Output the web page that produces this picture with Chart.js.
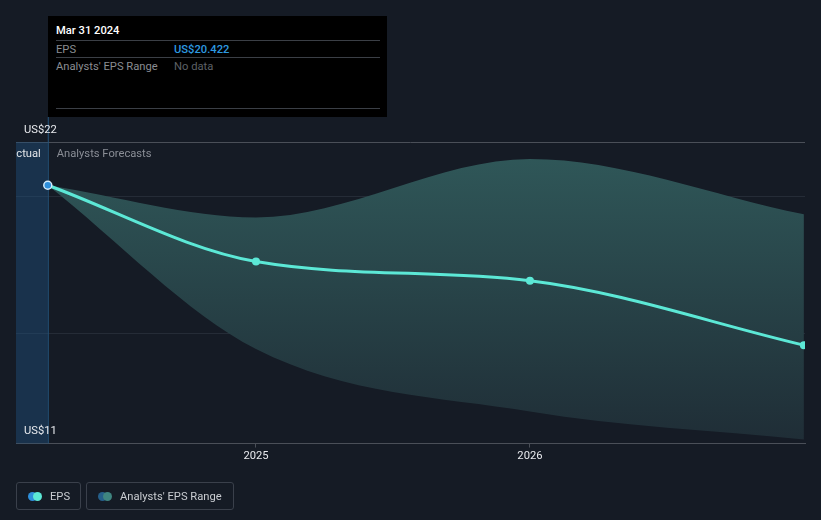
<!DOCTYPE html>
<html>
<head>
<meta charset="utf-8">
<script src="https://cdn.jsdelivr.net/npm/chart.js@4"></script>
<style>
    body { margin: 0; background: #151b25; font-family: Roboto, "Noto Sans", sans-serif; }
    .wrap { position: relative; width: 821px; height: 520px; }
    #eps-chart { position: absolute; left: 0; top: 0; }
    .tip { position: absolute; left: 48px; top: 16px; width: 339px; height: 101px; background: #000; font-size: 11.2px; }
    .tip-title { position: absolute; left: 8px; top: 8px; color: #fff; font-weight: 500; }
    .tip-line { position: absolute; left: 8px; width: 324px; height: 1px; background: #3b3f46; }
    .tip-row { position: absolute; left: 8px; width: 320px; color: #8a8d92; white-space: nowrap; }
    .tip-val { position: absolute; left: 118px; }
    .legend { position: absolute; left: 16px; top: 482px; }
    .legend-item { position: absolute; top: 0; box-sizing: border-box; height: 28px; border: 1px solid #3a404b; border-radius: 3px; display: flex; align-items: center; padding-left: 11px; color: #c9ccd1; font-size: 11.2px; white-space: nowrap; }
    .dots { position: relative; width: 14px; height: 9px; margin-right: 8px; }
    .dots span { position: absolute; top: 0; width: 9px; height: 9px; border-radius: 50%; }
</style>
</head>
<body>
<div class="wrap">
    <canvas id="eps-chart" width="821" height="520"></canvas>
    <div class="tip">
        <div class="tip-title">Mar 31 2024</div>
        <div class="tip-line" style="top:24px"></div>
        <div class="tip-row" style="top:27px">EPS<span class="tip-val" style="color:#2d9ae0;font-weight:500">US$20.422</span></div>
        <div class="tip-line" style="top:41px"></div>
        <div class="tip-row" style="top:44px">Analysts' EPS Range<span class="tip-val" style="color:#5d6066">No data</span></div>
        <div class="tip-line" style="top:92px"></div>
    </div>
    <div class="legend">
        <div class="legend-item" style="left:0;width:65px"><div class="dots"><span style="left:0;background:#2e8fdb"></span><span style="left:5px;background:#5ce8d6"></span></div>EPS</div>
        <div class="legend-item" style="left:70px;width:148px"><div class="dots"><span style="left:0;background:#255f8a"></span><span style="left:5px;background:#3f8580"></span></div>Analysts' EPS Range</div>
    </div>
</div>
<script>
// --- data ---
const xYears = [2024.24, 2025, 2026, 2027];
const epsValues = [20.422, 17.64, 16.94, 14.59];
const rangeHigh = [20.422, 19.25, 21.38, 19.36];
const rangeLow = [20.422, 14.45, 12.17, 11.15];
const yearTicks = [2025, 2026];
const gridValues = [11, 15, 20, 22];
const yLabels = ['US$22', 'US$11'];
const actualEnd = xYears[0];
const FONT = '11.2px Roboto';

const toPoints = vals => vals.map((v, i) => ({ x: xYears[i], y: v }));

// shaded "Actual" area + section labels + y labels
const sectionPlugin = {
    id: 'sections',
    beforeDatasetsDraw(chart) {
        const { ctx, chartArea, scales } = chart;
        const xa = scales.x.getPixelForValue(actualEnd);
        ctx.save();
        ctx.fillStyle = 'rgba(32, 80, 125, 0.45)';
        ctx.fillRect(chartArea.left, chartArea.top, xa - chartArea.left, chartArea.bottom - chartArea.top);
        ctx.strokeStyle = '#24547c';
        ctx.lineWidth = 1;
        ctx.beginPath();
        ctx.moveTo(xa + 0.5, 117);
        ctx.lineTo(xa + 0.5, chartArea.bottom);
        ctx.stroke();
        ctx.font = FONT;
        ctx.textBaseline = 'middle';
        ctx.beginPath();
        ctx.rect(chartArea.left, chartArea.top, chartArea.right - chartArea.left, chartArea.bottom - chartArea.top);
        ctx.clip();
        ctx.fillStyle = '#e2e4e8';
        ctx.textAlign = 'right';
        ctx.fillText('Actual', xa - 7, chartArea.top + 12);
        ctx.fillStyle = '#8a8e96';
        ctx.textAlign = 'left';
        ctx.fillText('Analysts Forecasts', xa + 9, chartArea.top + 12);
        ctx.restore();
    },
    afterDraw(chart) {
        const { ctx, chartArea, scales } = chart;
        ctx.save();
        ctx.font = FONT;
        ctx.fillStyle = '#e8eaee';
        ctx.textBaseline = 'middle';
        ctx.fillText(yLabels[0], chartArea.left + 8, scales.y.getPixelForValue(22) - 12);
        ctx.fillText(yLabels[1], chartArea.left + 8, scales.y.getPixelForValue(11) - 12);
        ctx.restore();
    }
};

const ctx = document.getElementById('eps-chart').getContext('2d');
new Chart(ctx, {
    type: 'line',
    data: {
        datasets: [
            {
                label: 'EPS',
                data: toPoints(epsValues),
                borderColor: '#5ce8d6',
                borderWidth: 3,
                cubicInterpolationMode: 'monotone',
                pointRadius: 4,
                pointBackgroundColor: epsValues.map((_, i) => i === 0 ? '#2e8fdb' : '#5ce8d6'),
                pointBorderColor: epsValues.map((_, i) => i === 0 ? '#d4ecfb' : '#5ce8d6'),
                pointBorderWidth: epsValues.map((_, i) => i === 0 ? 1.5 : 0),
                fill: false
            },
            {
                label: 'Analysts\' EPS Range',
                data: toPoints(rangeHigh),
                borderWidth: 0,
                pointRadius: 0,
                cubicInterpolationMode: 'monotone',
                fill: '+1',
                backgroundColor: (c) => {
                    const area = c.chart.chartArea;
                    if (!area) return '#2a4a4d';
                    const g = c.chart.ctx.createLinearGradient(0, area.top, 0, area.bottom);
                    g.addColorStop(0, '#30595a');
                    g.addColorStop(1, '#1f2d36');
                    return g;
                }
            },
            {
                label: 'low',
                data: toPoints(rangeLow),
                borderWidth: 0,
                pointRadius: 0,
                cubicInterpolationMode: 'monotone',
                fill: false
            }
        ]
    },
    options: {
        responsive: false,
        animation: false,
        layout: { padding: { left: 16, right: 16, top: 142, bottom: 55 } },
        plugins: { legend: { display: false }, tooltip: { enabled: false } },
        scales: {
            x: {
                type: 'linear',
                min: 2024.124,
                max: 2027.004,
                afterBuildTicks: axis => { axis.ticks = yearTicks.map(v => ({ value: v })); },
                ticks: { color: '#e8eaee', font: { family: 'Roboto', size: 11.2 }, padding: 2, callback: v => String(v) },
                grid: { drawOnChartArea: false, color: '#4a4f58', tickLength: 4 },
                border: { color: '#4a4f58' }
            },
            y: {
                min: 11,
                max: 22,
                afterBuildTicks: axis => { axis.ticks = gridValues.map(v => ({ value: v })); },
                ticks: { display: false },
                grid: {
                    drawTicks: false,
                    color: c => c.tick.value === 22 ? '#4a4f58' : (c.tick.value === 11 ? 'rgba(0,0,0,0)' : '#252c37')
                },
                border: { display: false }
            }
        }
    },
    plugins: [sectionPlugin]
});
</script>
</body>
</html>
